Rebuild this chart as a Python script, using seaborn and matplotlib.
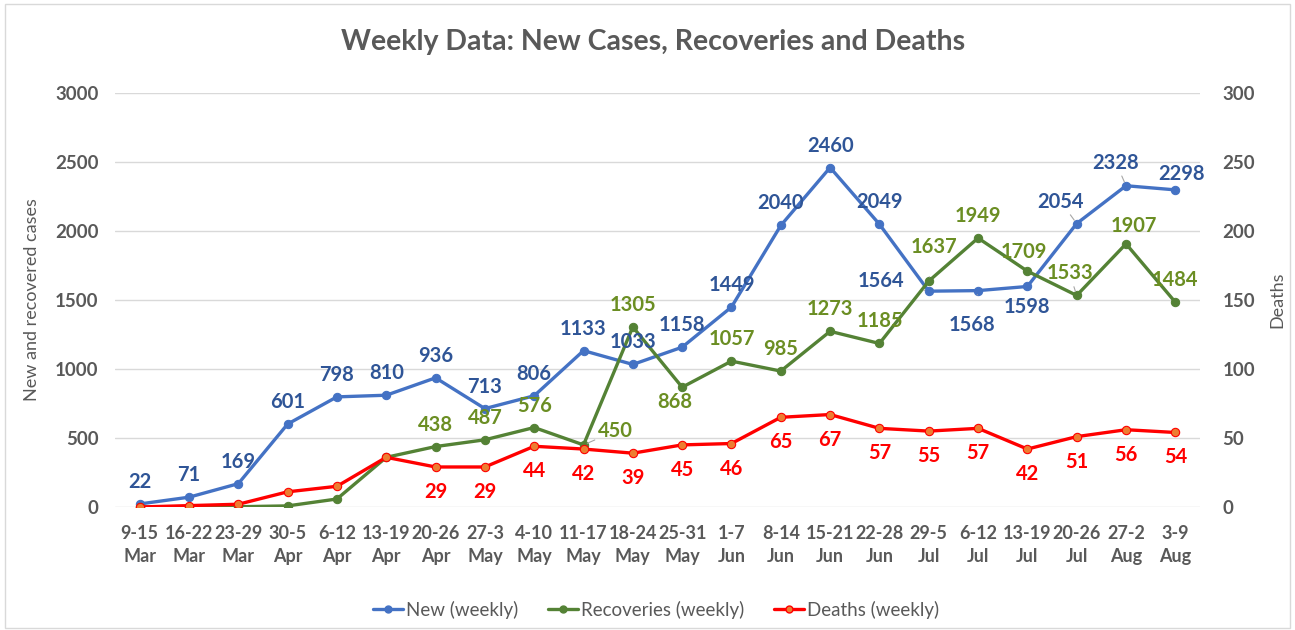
import numpy as np
import pandas as pd
import matplotlib.pyplot as plt
import matplotlib.lines as mlines
import matplotlib.patches as mpatches
import seaborn as sns

weeks = ['9-15\nMar', '16-22\nMar', '23-29\nMar', '30-5\nApr', '6-12\nApr', '13-19\nApr',
         '20-26\nApr', '27-3\nMay', '4-10\nMay', '11-17\nMay', '18-24\nMay', '25-31\nMay',
         '1-7\nJun', '8-14\nJun', '15-21\nJun', '22-28\nJun', '29-5\nJul', '6-12\nJul',
         '13-19\nJul', '20-26\nJul', '27-2\nAug', '3-9\nAug']
new_cases = [22, 71, 169, 601, 798, 810, 936, 713, 806, 1133, 1033, 1158,
             1449, 2040, 2460, 2049, 1564, 1568, 1598, 2054, 2328, 2298]
recoveries = [0, 0, 2, 8, 58, 360, 438, 487, 576, 450, 1305, 868,
              1057, 985, 1273, 1185, 1637, 1949, 1709, 1533, 1907, 1484]
deaths = [0, 1, 2, 11, 15, 36, 29, 29, 44, 42, 39, 45,
          46, 65, 67, 57, 55, 57, 42, 51, 56, 54]

BLUE = '#4472C4'
BLUE_TXT = '#2F5597'
GREEN = '#548235'
GREEN_TXT = '#6B8E23'
RED = '#FF0000'
ORANGE = '#ED7D31'
GRAY = '#595959'

sns.set_theme(style='white')
plt.rcParams['font.family'] = ['Lato', 'DejaVu Sans']

pos = np.arange(len(weeks))
df = pd.DataFrame({'pos': pos, 'New': new_cases, 'Rec': recoveries, 'Deaths': deaths})

fig = plt.figure(figsize=(12.95, 6.3), dpi=100)
ax = fig.add_axes([115 / 1295, 1 - 507 / 630, 1085 / 1295, 414 / 630])
ax2 = ax.twinx()

sns.lineplot(data=df, x='pos', y='New', ax=ax, color=BLUE, lw=2.4, marker='o',
             markersize=6, markeredgecolor=BLUE, zorder=3)
sns.lineplot(data=df, x='pos', y='Rec', ax=ax, color=GREEN, lw=2.4, marker='o',
             markersize=6, markeredgecolor=GREEN, zorder=3)
sns.lineplot(data=df, x='pos', y='Deaths', ax=ax2, color=RED, lw=2.4, marker='o',
             markersize=6, markerfacecolor=ORANGE, markeredgecolor=RED, markeredgewidth=0.8)

ax.set_xlim(-0.5, len(weeks) - 0.5)
ax.set_ylim(0, 3000)
ax2.set_ylim(0, 300)
ax.set_yticks(range(0, 3001, 500))
ax2.set_yticks(range(0, 301, 50))
ax.set_xticks(pos)
ax.set_xticklabels(weeks)
ax.yaxis.grid(True, color='#d9d9d9', lw=1)
ax.set_axisbelow(True)
for a in (ax, ax2):
    for s in a.spines.values():
        s.set_visible(False)
ax.tick_params(axis='x', length=0, pad=13, labelsize=13, labelcolor=GRAY)
ax.tick_params(axis='y', length=0, pad=12, labelsize=13.5, labelcolor=GRAY)
ax2.tick_params(axis='y', length=0, pad=16, labelsize=13.5, labelcolor=GRAY)
for lab in ax.get_xticklabels() + ax.get_yticklabels() + ax2.get_yticklabels():
    lab.set_fontweight('bold')
for lab in ax.get_xticklabels():
    lab.set_linespacing(1.4)
ax.set_xlabel('')
ax.set_ylabel('')
ax2.set_ylabel('')

fig.text(32 / 1295, 1 - 300 / 630, 'New and recovered cases', rotation=90,
         ha='center', va='center', fontsize=13, color=GRAY)
fig.text(1277 / 1295, 1 - 300 / 630, 'Deaths', rotation=90,
         ha='center', va='center', fontsize=13, color=GRAY)
fig.text(653 / 1295, 1 - 42 / 630, 'Weekly Data: New Cases, Recoveries and Deaths',
         ha='center', va='center', fontsize=20.5, fontweight='bold', color=GRAY)

# data labels (offsets in pixels, special ones get a leader line)
new_off = {16: (-48, 10, True), 17: (-6, -34, True), 18: (0, -21, False),
           19: (-16, 22, True), 20: (-10, 23, True), 21: (6, 16, False)}
rec_off = {9: (32, 14, True), 11: (-7, -15, False), 16: (5, 34, True),
           18: (-4, 19, False), 19: (-7, 22, True), 20: (8, 18, False)}
leader = dict(arrowstyle='-', color='#a6a6a6', lw=0.8, shrinkA=12, shrinkB=3)

for i, v in enumerate(new_cases):
    dx, dy, ln = new_off.get(i, (0, 22, False))
    ax.annotate(str(v), (i, v), xytext=(dx, dy), textcoords='offset pixels',
                ha='center', va='center', fontsize=14.5, fontweight='bold', color=BLUE_TXT,
                arrowprops=leader if ln else None, zorder=5)
for i, v in enumerate(recoveries):
    if i < 6:
        continue
    dx, dy, ln = rec_off.get(i, (0, 22, False))
    ax.annotate(str(v), (i, v), xytext=(dx, dy), textcoords='offset pixels',
                ha='center', va='center', fontsize=14.5, fontweight='bold', color=GREEN_TXT,
                arrowprops=leader if ln else None, zorder=5)
for i, v in enumerate(deaths):
    if i < 6:
        continue
    ax2.annotate(str(v), (i, v), xytext=(0, -25), textcoords='offset pixels',
                 ha='center', va='center', fontsize=14.5, fontweight='bold', color=RED)

handles = [
    mlines.Line2D([], [], color=BLUE, lw=2.4, marker='o', markersize=5),
    mlines.Line2D([], [], color=GREEN, lw=2.4, marker='o', markersize=5),
    mlines.Line2D([], [], color=RED, lw=2.4, marker='o', markersize=5,
                  markerfacecolor=ORANGE, markeredgecolor=RED),
]
fig.legend(handles, ['New (weekly)', 'Recoveries (weekly)', 'Deaths (weekly)'],
           loc='center', bbox_to_anchor=(656 / 1295, 1 - 610 / 630), ncol=3,
           frameon=False, fontsize=13.5, labelcolor=GRAY, handlelength=1.6,
           handletextpad=0.15, columnspacing=1.6)

fig.patches.append(mpatches.Rectangle((5 / 1295, 2 / 630), 1285 / 1295, 624 / 630,
                                      transform=fig.transFigure, fill=False,
                                      edgecolor='#d9d9d9', lw=1))

fig.savefig('out.png', dpi=100)
